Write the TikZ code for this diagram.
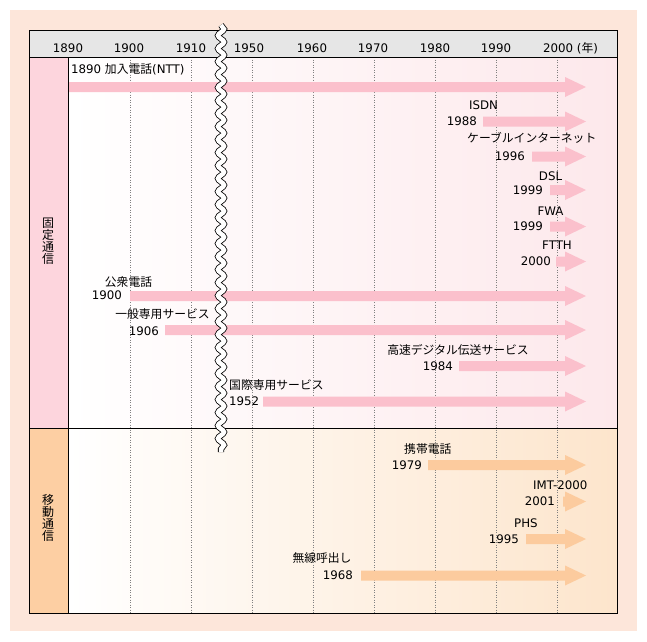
\documentclass[tikz,border=0pt]{standalone}
\usepackage{fontspec}
\setmainfont{DejaVu Sans}
\newfontfamily\jp{Noto Sans CJK JP}
\usetikzlibrary{decorations.pathmorphing}
\definecolor{outerbg}{HTML}{FDE6DA}
\definecolor{headgray}{HTML}{E6E6E6}
\definecolor{fixcol}{HTML}{FDD5DD}
\definecolor{mobcol}{HTML}{FDCFA3}
\definecolor{fixbg}{HTML}{FDE8EB}
\definecolor{mobbg}{HTML}{FDE5CC}
\definecolor{fixarrow}{HTML}{FBC0CC}
\definecolor{mobarrow}{HTML}{FCCB9E}
\newcommand\tlbar[3]{%
  \fill[#3] (#2,#1-5) -- (565,#1-5) -- (565,#1-10) -- (586,#1) -- (565,#1+10) -- (565,#1+5) -- (#2,#1+5) -- cycle;}
\begin{document}
\begin{tikzpicture}[x=1pt,y=-1pt,
  lbl/.style={inner sep=0pt, font=\fontsize{11.8}{13}\selectfont},
  vlbl/.style={inner sep=0pt, align=center, font=\jp\fontsize{12}{12}\selectfont},
  gridline/.style={gray, line width=0.6pt, dash pattern=on 1pt off 1.5pt},
  frame/.style={black, line width=1pt},
  brk/.style={decorate, decoration={snake, segment length=13pt, amplitude=3pt}, line width=0.8pt, double=white, double distance=4.5pt}]
\useasboundingbox (0,0) rectangle (647,641);
% backgrounds
\fill[outerbg] (10,10) rectangle (637,631);
\fill[headgray] (29,30) rectangle (617,57);
\fill[fixcol] (29,57) rectangle (68.5,428);
\fill[mobcol] (29,428) rectangle (68.5,613);
\shade[left color=white, right color=fixbg] (68.5,57) rectangle (617,428);
\shade[left color=white, right color=mobbg] (68.5,428) rectangle (617,613);
% grid lines
\foreach \x in {130,191,252,313,374,435,496,557}
  \draw[gridline] (\x,57) -- (\x,613);
% header labels
\node[lbl] (h1890) at (68,48) {1890};
\node[lbl] (h1900) at (129,48) {1900};
\node[lbl] (h1910) at (191,48) {1910};
\node[lbl] (h1950) at (249,48) {1950};
\node[lbl] (h1960) at (312,48) {1960};
\node[lbl] (h1970) at (373,48) {1970};
\node[lbl] (h1980) at (435,48) {1980};
\node[lbl] (h1990) at (496,48) {1990};
\node[lbl, anchor=west] (h2000) at (543,48) {2000 ({\jp 年})};
% section labels
\node[vlbl] (fixed) at (48,241) {固\\定\\通\\信};
\node[vlbl] (mobile) at (48,518) {移\\動\\通\\信};
% fixed arrows
\tlbar{87}{69}{fixarrow}
\tlbar{121.5}{483}{fixarrow}
\tlbar{156.5}{532}{fixarrow}
\tlbar{190}{550}{fixarrow}
\tlbar{226.5}{550}{fixarrow}
\tlbar{261.5}{556}{fixarrow}
\tlbar{296}{130}{fixarrow}
\tlbar{330}{165}{fixarrow}
\tlbar{366}{459}{fixarrow}
\tlbar{401.5}{263}{fixarrow}
% mobile arrows
\tlbar{465}{428}{mobarrow}
\tlbar{501.5}{563}{mobarrow}
\tlbar{539}{526}{mobarrow}
\tlbar{575.5}{361}{mobarrow}
% fixed labels
\node[lbl, anchor=west] (l1) at (71,69) {1890 {\jp 加入電話}(NTT)};
\node[lbl] (l2) at (483.5,105) {ISDN};
\node[lbl, anchor=east] (y2) at (477,121.5) {1988};
\node[lbl, anchor=west] (l3) at (467,138) {\jp ケーブルインターネット};
\node[lbl, anchor=east] (y3) at (525,156.5) {1996};
\node[lbl] (l4) at (550.5,176) {DSL};
\node[lbl, anchor=east] (y4) at (543,190) {1999};
\node[lbl] (l5) at (550.5,211) {FWA};
\node[lbl, anchor=east] (y5) at (543,226.5) {1999};
\node[lbl] (l6) at (557,245) {FTTH};
\node[lbl, anchor=east] (y6) at (551,261.5) {2000};
\node[lbl] (l7) at (128.5,282) {\jp 公衆電話};
\node[lbl, anchor=east] (y7) at (122,295.5) {1900};
\node[lbl] (l8) at (162.5,314) {\jp 一般専用サービス};
\node[lbl, anchor=east] (y8) at (159,331) {1906};
\node[lbl] (l9) at (458,350) {\jp 高速デジタル伝送サービス};
\node[lbl, anchor=east] (y9) at (453,366) {1984};
\node[lbl, anchor=west] (l10) at (229,385) {\jp 国際専用サービス};
\node[lbl, anchor=west] (y10) at (229,401.5) {1952};
% mobile labels
\node[lbl, anchor=west] (l11) at (404,449) {\jp 携帯電話};
\node[lbl, anchor=east] (y11) at (422,465) {1979};
\node[lbl, anchor=west] (l12) at (533,485) {IMT-2000};
\node[lbl, anchor=east] (y12) at (555,501.5) {2001};
\node[lbl, anchor=west] (l13) at (514,523) {PHS};
\node[lbl, anchor=east] (y13) at (519,539) {1995};
\node[lbl] (l14) at (322,558) {\jp 無線呼出し};
\node[lbl, anchor=east] (y14) at (353,575.5) {1968};
% frame
\draw[frame] (29,30) rectangle (617,613);
\draw[frame] (29,57) -- (617,57);
\draw[frame] (68.5,57) -- (68.5,613);
\draw[frame] (29,428) -- (617,428);
% break
\coordinate (b1) at (221,25);
\coordinate (b2) at (221,452);
\draw[brk] (b1) -- (b2);
\end{tikzpicture}
\end{document}
